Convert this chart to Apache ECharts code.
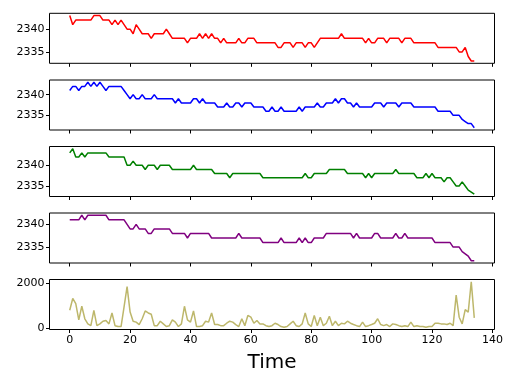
<!DOCTYPE html>
<html><head><meta charset="utf-8">
<script src="https://cdn.jsdelivr.net/npm/echarts@6/dist/echarts.min.js"></script>
<style>html,body{margin:0;padding:0;background:#fff}#c{width:514px;height:387px}</style>
</head><body><div id="c"></div>
<script>
const red = [
2343,2341,2342,2342,2342,2342,2342,2342,2343,2343,
2343,2342,2342,2342,2341,2342,2341,2342,2341,2340,
2340,2339,2341,2340,2339,2339,2339,2338,2339,2339,
2339,2339,2340,2339,2338,2338,2338,2338,2338,2337,
2338,2338,2338,2339,2338,2339,2338,2339,2338,2338,
2337,2338,2337,2337,2337,2337,2338,2337,2337,2338,
2338,2338,2337,2337,2337,2337,2337,2337,2337,2336,
2336,2337,2337,2337,2336,2337,2337,2337,2336,2337,
2337,2336,2337,2338,2338,2338,2338,2338,2338,2338,
2339,2338,2338,2338,2338,2338,2338,2338,2337,2338,
2337,2337,2338,2338,2338,2337,2338,2338,2338,2338,
2337,2338,2338,2338,2337,2337,2337,2337,2337,2337,
2337,2337,2336,2336,2336,2336,2336,2336,2336,2335,
2335,2336,2334,2333,2333];
const blue = [
2341,2342,2342,2341,2342,2342,2343,2342,2343,2342,
2343,2342,2341,2342,2342,2342,2342,2342,2341,2340,
2339,2340,2339,2339,2340,2339,2339,2339,2340,2339,
2339,2339,2339,2339,2339,2338,2339,2338,2338,2338,
2338,2339,2339,2338,2339,2338,2338,2338,2338,2337,
2337,2337,2338,2337,2337,2338,2338,2337,2338,2338,
2338,2337,2337,2337,2337,2336,2336,2337,2336,2336,
2337,2336,2336,2336,2336,2336,2337,2336,2337,2337,
2337,2337,2338,2337,2337,2338,2338,2338,2339,2338,
2339,2339,2338,2338,2337,2338,2337,2337,2337,2337,
2337,2338,2338,2338,2337,2338,2338,2338,2338,2337,
2338,2338,2338,2338,2337,2337,2337,2337,2337,2337,
2337,2337,2336,2336,2336,2336,2336,2335,2335,2335,
2334,2333.5,2333,2333,2332];
const green = [
2343,2344,2342,2342,2343,2342,2343,2343,2343,2343,
2343,2343,2343,2342,2342,2342,2342,2342,2342,2340,
2340,2341,2340,2340,2340,2339,2340,2340,2340,2339,
2340,2340,2340,2340,2339,2339,2339,2339,2339,2339,
2339,2340,2339,2339,2339,2339,2339,2339,2338,2338,
2338,2338,2338,2337,2338,2338,2338,2338,2338,2338,
2338,2338,2338,2338,2337,2337,2337,2337,2337,2337,
2337,2337,2337,2337,2337,2337,2337,2337,2338,2337,
2337,2338,2338,2338,2338,2338,2339,2339,2339,2339,
2339,2339,2338,2338,2338,2338,2338,2338,2337,2338,
2337,2338,2338,2338,2338,2338,2338,2338,2339,2338,
2338,2338,2338,2338,2338,2337,2337,2337,2338,2337,
2338,2337,2337,2337,2336,2337,2337,2336,2335,2335,
2336,2335,2334,2333.5,2333];
const purple = [
2341,2341,2341,2341,2342,2341,2342,2342,2342,2342,
2342,2342,2342,2341,2341,2341,2341,2341,2341,2340,
2339,2339,2340,2339,2339,2339,2338,2338,2339,2339,
2339,2339,2339,2339,2338,2338,2338,2338,2338,2337,
2338,2338,2338,2338,2338,2338,2338,2337,2337,2337,
2337,2337,2337,2337,2337,2337,2338,2337,2337,2337,
2337,2337,2337,2337,2336,2336,2336,2336,2336,2336,
2337,2336,2336,2336,2336,2336,2337,2336,2337,2336,
2336,2337,2337,2337,2337,2338,2338,2338,2338,2338,
2338,2338,2338,2338,2337,2338,2337,2337,2337,2337,
2337,2338,2338,2337,2337,2337,2337,2337,2338,2337,
2337,2338,2337,2337,2337,2337,2337,2337,2337,2337,
2337,2336,2336,2336,2336,2336,2336,2335,2335,2335,
2334,2333.5,2333,2332,2332];
const volume = [
790,1320,1090,360,970,410,180,100,790,100,
180,300,330,180,670,100,60,60,940,1850,
710,300,260,150,410,760,670,610,100,100,
300,180,60,100,360,260,60,180,970,360,
260,760,60,60,100,300,260,670,150,150,
100,100,210,300,260,150,60,410,100,560,
480,210,330,180,180,100,60,100,210,150,
60,30,60,180,300,100,60,180,670,180,
60,560,100,480,100,210,520,100,300,100,
210,180,300,210,150,100,60,260,60,100,
150,210,410,150,100,150,60,180,150,100,
60,100,60,260,60,100,60,60,30,60,
60,210,210,180,180,150,210,100,1470,480,
180,820,710,2070,450];
const xTicks = [0,20,40,60,80,100,120,140];
const priceTicks = [2335,2340];
const volumeTicks = [0,2000];

const seriesList = [
  {data: red, color: '#ff0000', ticks: priceTicks},
  {data: blue, color: '#0000ff', ticks: priceTicks},
  {data: green, color: '#008000', ticks: priceTicks},
  {data: purple, color: '#800080', ticks: priceTicks},
  {data: volume, color: '#bdb76b', ticks: volumeTicks}
];
const tops = [13.3, 80, 146.5, 213, 279.5];
const FONT = 'DejaVu Sans';
const grid = [], xAxis = [], yAxis = [], series = [];
seriesList.forEach((s, k) => {
  const mn = Math.min(...s.data), mx = Math.max(...s.data);
  const pad = (mx - mn) * 0.05;
  grid.push({left: 49.5, width: 445, top: tops[k], height: 50, show: true,
    borderColor: '#000', borderWidth: 1, backgroundColor: 'transparent'});
  const last = k === seriesList.length - 1;
  xAxis.push({type: 'value', gridIndex: k, min: -6.7, max: 140.7,
    axisLine: {show: false, onZero: false},
    axisTick: {show: true, length: 3.5, customValues: xTicks, lineStyle: {color: '#000', width: 1}},
    axisLabel: {show: last, customValues: xTicks, fontSize: 11, color: '#000', fontFamily: FONT, margin: 5,
      formatter: v => String(v)},
    splitLine: {show: false},
    name: last ? 'Time' : '', nameLocation: 'middle', nameGap: 23,
    nameTextStyle: {fontSize: 20, color: '#000', fontFamily: FONT}});
  yAxis.push({type: 'value', gridIndex: k, min: mn - pad, max: mx + pad,
    axisLine: {show: false, onZero: false},
    axisTick: {show: true, length: 3.5, customValues: s.ticks, lineStyle: {color: '#000', width: 1}},
    axisLabel: {show: true, customValues: s.ticks, fontSize: 11, color: '#000', fontFamily: FONT, margin: 5,
      formatter: v => String(v)},
    splitLine: {show: false}});
  series.push({type: 'line', xAxisIndex: k, yAxisIndex: k, showSymbol: false, symbol: 'none',
    data: s.data.map((v, i) => [i, v]),
    lineStyle: {color: s.color, width: 1.5}, itemStyle: {color: s.color}});
});
const chart = echarts.init(document.getElementById('c'), null, {renderer: 'canvas'});
chart.setOption({animation: false, backgroundColor: '#fff', grid, xAxis, yAxis, series});
</script>
</body></html>
